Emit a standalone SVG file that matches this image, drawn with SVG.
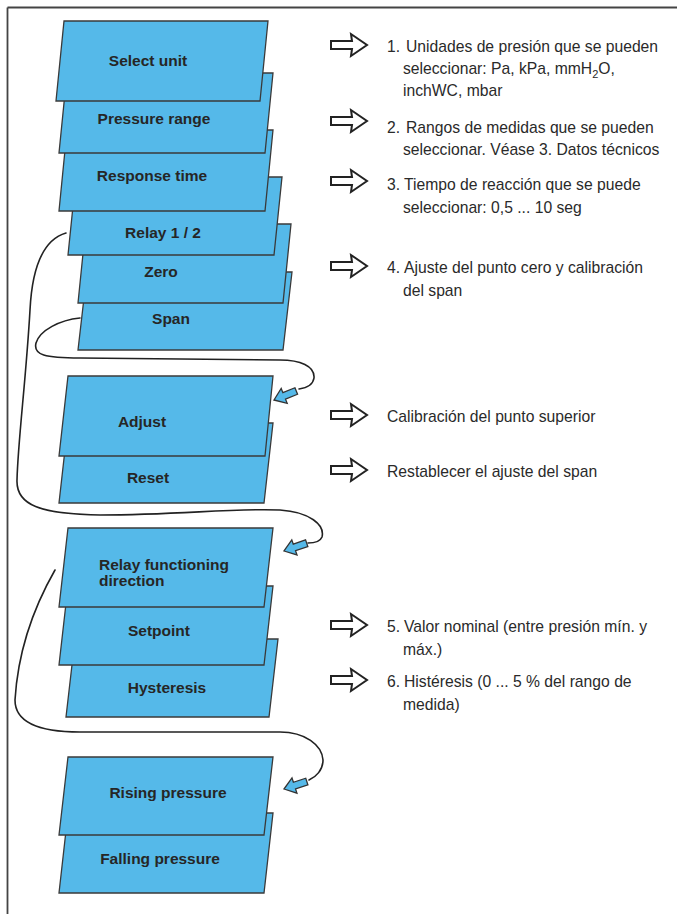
<svg xmlns="http://www.w3.org/2000/svg" width="677" height="914" viewBox="0 0 677 914">
<style>
.card{fill:#55b9e9;stroke:#3a3a3a;stroke-width:1.3;stroke-linejoin:miter}
.lbl{font-family:"Liberation Sans",Arial,sans-serif;font-weight:bold;font-size:15.5px;fill:#262626;text-anchor:middle}
.lbl2{font-family:"Liberation Sans",Arial,sans-serif;font-weight:bold;font-size:15.5px;fill:#262626}
.note{font-family:"Liberation Sans",Arial,sans-serif;font-size:15.7px;fill:#2a2a2a}
.hollow{fill:#fff;stroke:#222;stroke-width:2;stroke-linejoin:miter}
.curve{fill:none;stroke:#222;stroke-width:1.6;stroke-linecap:round}
.blk{fill:#55b9e9;stroke:#333;stroke-width:1.3;stroke-linejoin:miter}
</style>
<defs>
<path id="hol" d="M0,-4 L21,-4 L20,-11 L36,0 L20,11 L21,4 L0,4 Z"/>
<path id="blkarr" d="M0,0 L-11,-8 L-11,-3.5 L-24,-3.5 L-24,3.5 L-11,3.5 L-11,8 Z"/>
</defs>
<rect width="677" height="914" fill="#fff"/>
<g id="frame" stroke="#444" stroke-width="1.8" fill="none">
<line x1="7.5" y1="7.5" x2="677" y2="7.5"/>
<line x1="7.5" y1="7.5" x2="7.5" y2="914"/>
</g>

<!-- stack 1 -->
<g id="node-span"><polygon class="card" points="87,272 292,272 283,350 78,350"/><text class="lbl" x="171" y="324">Span</text></g>
<g id="node-zero"><polygon class="card" points="86,224 291,224 283,303 78,303"/><text class="lbl" x="161" y="277">Zero</text></g>
<g id="node-relay12"><polygon class="card" points="76,177 282,177 274,255 68,255"/><text class="lbl" x="163" y="238">Relay 1 / 2</text></g>
<g id="node-response-time"><polygon class="card" points="67,130 273,130 265,211 59,211"/><text class="lbl" x="152" y="181">Response time</text></g>
<g id="node-pressure-range"><polygon class="card" points="67,73 273,73 265,153 59,153"/><text class="lbl" x="154" y="124">Pressure range</text></g>
<g id="node-select-unit"><polygon class="card" points="64,21 268,21 260,101 56,101"/><text class="lbl" x="148" y="66">Select unit</text></g>

<!-- stack 2 -->
<g id="node-reset"><polygon class="card" points="68,423 273,423 264,503 59,503"/><text class="lbl" x="148" y="483">Reset</text></g>
<g id="node-adjust"><polygon class="card" points="68,376 273,376 265,456 59,456"/><text class="lbl" x="142" y="427">Adjust</text></g>

<!-- stack 3 -->
<g id="node-hysteresis"><polygon class="card" points="75,639 278,639 269,717 66,717"/><text class="lbl" x="167" y="693">Hysteresis</text></g>
<g id="node-setpoint"><polygon class="card" points="68,586 273,586 264,665 59,665"/><text class="lbl" x="159" y="636">Setpoint</text></g>
<g id="node-relay-direction"><polygon class="card" points="68,528 273,528 264,607 59,607"/><text class="lbl2" x="99" y="570">Relay functioning</text><text class="lbl2" x="99" y="586">direction</text></g>

<!-- stack 4 -->
<g id="node-falling"><polygon class="card" points="68,813 273,813 264,893 59,893"/><text class="lbl" x="160" y="864">Falling pressure</text></g>
<g id="node-rising"><polygon class="card" points="68,757 273,757 264,835 59,835"/><text class="lbl" x="168" y="798">Rising pressure</text></g>

<g id="connectors">
<path class="curve" d="M66,233 C42,240 32,270 30,310 C26,380 18,440 17,480 C16,505 40,514 100,515 C180,515 230,508 280,510 C310,512 325,525 322,537 C320,542 314,543 308,543"/>
<use href="#blkarr" class="blk" transform="translate(284,551) rotate(161)"/>
<path class="curve" d="M80,318 C60,320 40,330 36,343 C33,355 45,358 80,358 L280,360 C300,360 315,366 314,378 C313,385 306,388 299,389"/>
<use href="#blkarr" class="blk" transform="translate(274,400) rotate(158)"/>
<path class="curve" d="M55,570 C35,605 18,650 15,700 C15,720 35,732 80,732 L280,732 C305,732 322,745 323,760 C323,770 316,777 309,780"/>
<use href="#blkarr" class="blk" transform="translate(284,789) rotate(162)"/>
</g>

<g id="note1"><use href="#hol" class="hollow" x="331" y="45"/>
<text class="note" y="51.5"><tspan x="387">1.</tspan><tspan x="406">Unidades de presión que se pueden</tspan></text>
<text class="note" x="403" y="73.5">seleccionar: Pa, kPa, mmH<tspan font-size="11px" dy="4">2</tspan><tspan dy="-4">O,</tspan></text>
<text class="note" x="403" y="95.5">inchWC, mbar</text></g>

<g id="note2"><use href="#hol" class="hollow" x="331" y="121"/>
<text class="note" y="132.5"><tspan x="387">2.</tspan><tspan x="406">Rangos de medidas que se pueden</tspan></text>
<text class="note" x="403" y="154.5">seleccionar. Véase 3. Datos técnicos</text></g>

<g id="note3"><use href="#hol" class="hollow" x="331" y="181"/>
<text class="note" y="189.5"><tspan x="387">3.</tspan><tspan x="404">Tiempo de reacción que se puede</tspan></text>
<text class="note" x="403" y="212.5">seleccionar: 0,5 ... 10 seg</text></g>

<g id="note4"><use href="#hol" class="hollow" x="331" y="266"/>
<text class="note" y="272.5"><tspan x="387">4.</tspan><tspan x="404">Ajuste del punto cero y calibración</tspan></text>
<text class="note" x="403" y="295.5">del span</text></g>

<g id="note-adjust"><use href="#hol" class="hollow" x="331" y="415"/>
<text class="note" x="387" y="421.5">Calibración del punto superior</text></g>

<g id="note-reset"><use href="#hol" class="hollow" x="331" y="470"/>
<text class="note" x="387" y="476.5">Restablecer el ajuste del span</text></g>

<g id="note5"><use href="#hol" class="hollow" x="331" y="625"/>
<text class="note" y="631.5"><tspan x="387">5.</tspan><tspan x="404">Valor nominal (entre presión mín. y</tspan></text>
<text class="note" x="403" y="654.5">máx.)</text></g>

<g id="note6"><use href="#hol" class="hollow" x="331" y="680"/>
<text class="note" y="686.5"><tspan x="387">6.</tspan><tspan x="404">Histéresis (0 ... 5 % del rango de</tspan></text>
<text class="note" x="403" y="709.5">medida)</text></g>
</svg>
